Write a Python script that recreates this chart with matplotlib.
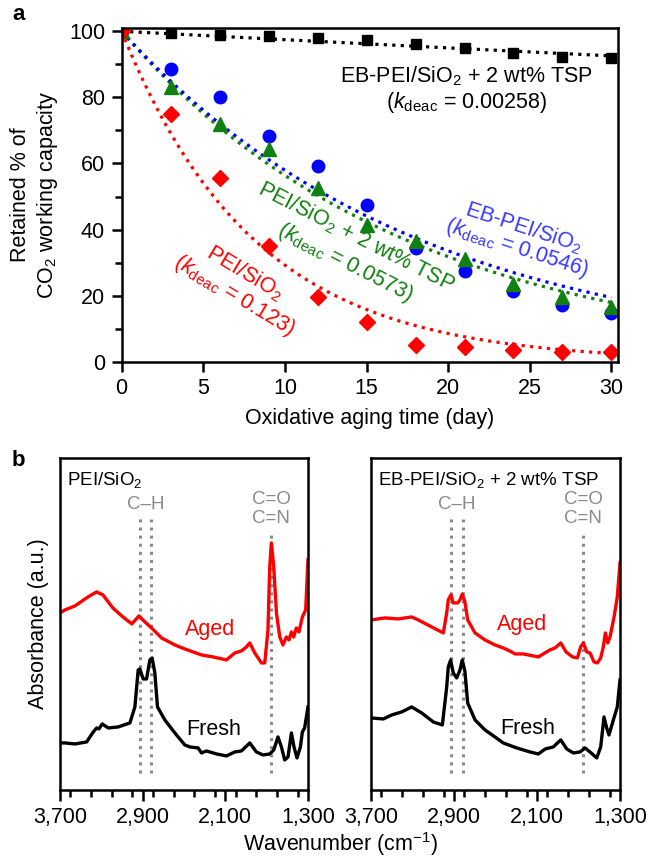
import numpy as np
import matplotlib
matplotlib.use("Agg")
import matplotlib.pyplot as plt
from matplotlib.ticker import MultipleLocator, FixedLocator, FuncFormatter

plt.rcParams['font.family'] = ['Liberation Sans', 'DejaVu Sans']
plt.rcParams['mathtext.fontset'] = 'custom'
plt.rcParams['mathtext.rm'] = 'Liberation Sans'
plt.rcParams['mathtext.it'] = 'Liberation Sans:italic'

#%% panel a data: retained % of CO2 working capacity vs aging time
days = [0, 3, 6, 9, 12, 15, 18, 21, 24, 27, 30]
eb_tsp = [100, 99.5, 99.0, 98.5, 98.0, 97.3, 96.2, 95.0, 93.5, 92.3, 92.0]
eb_pei = [100, 88.5, 80.0, 68.2, 59.2, 47.5, 34.5, 27.5, 21.5, 17.2, 14.8]
pei_tsp = [100, 83.0, 72.0, 64.5, 52.5, 41.5, 36.5, 31.0, 23.5, 19.5, 16.5]
pei = [100, 75.0, 55.7, 35.0, 19.7, 12.0, 5.0, 4.5, 3.7, 3.0, 2.8]

k_eb_tsp = 0.00258
k_eb_pei = 0.0546
k_pei_tsp = 0.0573
k_pei = 0.123

#%% panel b data: IR spectra (wavenumber, absorbance a.u.)
w_pei_aged = [3700, 3652, 3555, 3429, 3345, 3284, 3188, 3091, 3004, 2936, 2878, 2814,
              2717, 2588, 2492, 2412, 2330, 2218, 2089, 2008, 1944, 1895, 1863, 1815,
              1750, 1718, 1687, 1670, 1654, 1631, 1605, 1573, 1542, 1509, 1484, 1460,
              1438, 1412, 1387, 1354, 1322, 1300]
a_pei_aged = [1.77, 1.80, 1.84, 1.93, 1.98, 1.95, 1.82, 1.73, 1.66, 1.74, 1.68, 1.62,
              1.52, 1.45, 1.41, 1.38, 1.35, 1.33, 1.30, 1.37, 1.39, 1.43, 1.47, 1.37,
              1.27, 1.27, 1.60, 2.23, 2.47, 2.23, 1.77, 1.53, 1.45, 1.53, 1.50, 1.58,
              1.53, 1.62, 1.58, 1.73, 1.80, 2.30]

w_pei_fresh = [3700, 3652, 3555, 3442, 3378, 3345, 3323, 3291, 3233, 3136, 3023, 2975,
               2943, 2927, 2895, 2862, 2830, 2808, 2782, 2756, 2685, 2588, 2492, 2443,
               2363, 2330, 2282, 2185, 2089, 2008, 1944, 1863, 1799, 1735, 1670, 1631,
               1590, 1557, 1525, 1493, 1460, 1435, 1406, 1373, 1354, 1332, 1300]
a_pei_fresh = [0.47, 0.47, 0.46, 0.48, 0.58, 0.62, 0.61, 0.66, 0.62, 0.63, 0.67, 0.83,
               1.20, 1.21, 1.11, 1.11, 1.30, 1.32, 1.17, 0.83, 0.70, 0.57, 0.45, 0.43,
               0.42, 0.37, 0.39, 0.36, 0.34, 0.38, 0.39, 0.47, 0.38, 0.35, 0.36, 0.40,
               0.53, 0.43, 0.30, 0.33, 0.57, 0.43, 0.32, 0.43, 0.58, 0.62, 0.83]

w_eb_aged = [3700, 3565, 3437, 3308, 3244, 3115, 3003, 2970, 2955, 2929, 2907, 2864,
             2842, 2820, 2794, 2768, 2697, 2601, 2505, 2425, 2344, 2312, 2232, 2087,
             1975, 1926, 1871, 1820, 1756, 1711, 1679, 1653, 1620, 1589, 1550, 1518,
             1486, 1461, 1441, 1418, 1396, 1357, 1326, 1300]
a_eb_aged = [1.70, 1.72, 1.71, 1.73, 1.70, 1.63, 1.57, 1.77, 1.90, 1.95, 1.87, 1.87,
             1.90, 1.96, 1.88, 1.70, 1.57, 1.50, 1.45, 1.42, 1.38, 1.36, 1.36, 1.33,
             1.40, 1.42, 1.47, 1.38, 1.33, 1.32, 1.43, 1.47, 1.38, 1.37, 1.28, 1.27,
             1.32, 1.43, 1.57, 1.47, 1.53, 1.73, 1.93, 2.27]

w_eb_fresh = [3700, 3581, 3500, 3404, 3308, 3211, 3099, 3012, 2970, 2955, 2932, 2907,
              2874, 2842, 2820, 2794, 2768, 2697, 2601, 2505, 2425, 2295, 2167, 2087,
              2020, 1943, 1871, 1813, 1750, 1685, 1637, 1589, 1524, 1486, 1454, 1428,
              1406, 1364, 1326, 1300]
a_eb_fresh = [0.72, 0.71, 0.75, 0.78, 0.83, 0.77, 0.68, 0.65, 1.03, 1.23, 1.30, 1.17,
              1.12, 1.20, 1.30, 1.18, 0.87, 0.70, 0.60, 0.53, 0.47, 0.42, 0.38, 0.36,
              0.41, 0.43, 0.50, 0.41, 0.37, 0.38, 0.42, 0.38, 0.32, 0.43, 0.73, 0.62,
              0.55, 0.70, 0.83, 1.10]

ch_bands = [2925, 2815]
co_band = 1655
wn_ticks = [3700, 2900, 2100, 1300]

#%%
fig = plt.figure(figsize=(6.49, 8.58), dpi=100)

RED = '#ff0000'
BLUE = '#0000ff'
GREEN = '#108010'
GRAY = '#8a8a8a'
FS = 15.5

ax = fig.add_axes([0.1875, 0.5784, 0.7647, 0.389])
t = np.linspace(0, 30, 200)
ax.plot(t, 100*np.exp(-k_eb_tsp*t), ':', color='k', lw=2.3)
ax.plot(t, 100*np.exp(-k_pei*t), ':', color=RED, lw=2.3)
ax.plot(t, 100*np.exp(-k_pei_tsp*t), ':', color=GREEN, lw=2.3)
ax.plot(t, 100*np.exp(-k_eb_pei*t), ':', color=BLUE, lw=2.3)
ax.plot(days, eb_tsp, 's', color='k', ms=7.5, ls='none')
ax.plot(days, eb_pei, 'o', color=BLUE, ms=9, ls='none')
ax.plot(days, pei_tsp, '^', color=GREEN, ms=9.5, ls='none')
ax.plot(days, pei, 'D', color=RED, ms=8, ls='none')

ax.set_xlim(0, 30.4)
ax.set_ylim(0, 101)
ax.xaxis.set_major_locator(MultipleLocator(5))
ax.yaxis.set_major_locator(MultipleLocator(20))
ax.yaxis.set_minor_locator(MultipleLocator(10))
ax.tick_params(which='both', direction='out', width=1.8, labelsize=FS)
ax.tick_params(which='major', length=7, pad=5)
ax.tick_params(which='minor', length=5)
for s in ax.spines.values():
    s.set_linewidth(1.8)
ax.set_xlabel('Oxidative aging time (day)', fontsize=FS, labelpad=6)
fig.text(35/649, 1-195/858, 'Retained % of\nCO$_2$ working capacity', rotation=90,
         ha='center', va='center', fontsize=FS, multialignment='center', linespacing=1.25)

ax.text(21.1, 86.4, 'EB-PEI/SiO$_2$ + 2 wt% TSP', ha='center', va='center', fontsize=FS)
ax.text(21.1, 78.3, '($k_{\\rm deac}$ = 0.00258)', ha='center', va='center', fontsize=FS)
ax.text(24.6, 40.6, 'EB-PEI/SiO$_2$', color='#3a3aff', rotation=-18, rotation_mode='anchor',
        ha='center', va='center', fontsize=FS)
ax.text(24.2, 34.3, '($k_{\\rm deac}$ = 0.0546)', color='#3a3aff', rotation=-18,
        rotation_mode='anchor', ha='center', va='center', fontsize=FS)
ax.text(14.35, 37.9, 'PEI/SiO$_2$ + 2 wt% TSP', color=GREEN, rotation=-27, rotation_mode='anchor',
        ha='center', va='center', fontsize=FS)
ax.text(13.7, 30.1, '($k_{\\rm deac}$ = 0.0573)', color=GREEN, rotation=-27,
        rotation_mode='anchor', ha='center', va='center', fontsize=FS)
ax.text(7.55, 26.7, 'PEI/SiO$_2$', color=RED, rotation=-31, rotation_mode='anchor',
        ha='center', va='center', fontsize=FS)
ax.text(6.9, 20.1, '($k_{\\rm deac}$ = 0.123)', color=RED, rotation=-31,
        rotation_mode='anchor', ha='center', va='center', fontsize=FS)

fig.text(12/649, 1-15/858, 'a', fontsize=16, fontweight='bold', ha='left', va='center')
fig.text(12/649, 1-460/858, 'b', fontsize=16, fontweight='bold', ha='left', va='center')

#%% panel b
comma = FuncFormatter(lambda v, p: '{:,.0f}'.format(v))
panels = [
    ([0.0924, 0.0793, 0.3821, 0.387], 'PEI/SiO$_2$', w_pei_aged, a_pei_aged, w_pei_fresh, a_pei_fresh,
     (2250, 1.60), (2211, 0.60)),
    ([0.5716, 0.0793, 0.3837, 0.387], 'EB-PEI/SiO$_2$ + 2 wt% TSP', w_eb_aged, a_eb_aged, w_eb_fresh, a_eb_fresh,
     (2244, 1.65), (2187, 0.61)),
]
for rect, title, wa, aa, wf, af, aged_pos, fresh_pos in panels:
    bx = fig.add_axes(rect)
    for w in ch_bands:
        bx.plot([w, w], [0.17, 2.73], ':', color=GRAY, lw=2.2)
    bx.plot([co_band, co_band], [0.17, 2.58], ':', color=GRAY, lw=2.2)
    bx.plot(wa, aa, color=RED, lw=2.4, solid_joinstyle='round')
    bx.plot(wf, af, color='k', lw=2.4, solid_joinstyle='round')
    bx.text(np.mean(ch_bands), 2.85, 'C\u2013H', color=GRAY, ha='center', va='center', fontsize=13.5)
    bx.text(co_band, 2.90, 'C=O', color=GRAY, ha='center', va='center', fontsize=13.5)
    bx.text(co_band, 2.715, 'C=N', color=GRAY, ha='center', va='center', fontsize=13.5)
    bx.text(aged_pos[0], aged_pos[1], 'Aged', color=RED, ha='center', va='center', fontsize=FS)
    bx.text(fresh_pos[0], fresh_pos[1], 'Fresh', color='k', ha='center', va='center', fontsize=FS)
    bx.text(0.03, 0.965, title, transform=bx.transAxes, ha='left', va='top', fontsize=13.5)
    bx.set_xlim(3700, 1300)
    bx.set_ylim(0, 3.32)
    bx.set_yticks([])
    bx.xaxis.set_major_locator(FixedLocator(wn_ticks))
    bx.xaxis.set_minor_locator(MultipleLocator(200))
    bx.xaxis.set_major_formatter(comma)
    bx.tick_params(which='both', direction='out', width=1.8, labelsize=FS)
    bx.tick_params(which='major', length=8, pad=4)
    bx.tick_params(which='minor', length=5)
    for s in bx.spines.values():
        s.set_linewidth(1.8)
    if title == 'PEI/SiO$_2$':
        bx.set_ylabel('Absorbance (a.u.)', fontsize=FS, labelpad=8)

fig.text(341/649, 1-844/858, 'Wavenumber (cm$^{-1}$)', ha='center', va='center', fontsize=FS)

fig.savefig('out.png', dpi=100)
